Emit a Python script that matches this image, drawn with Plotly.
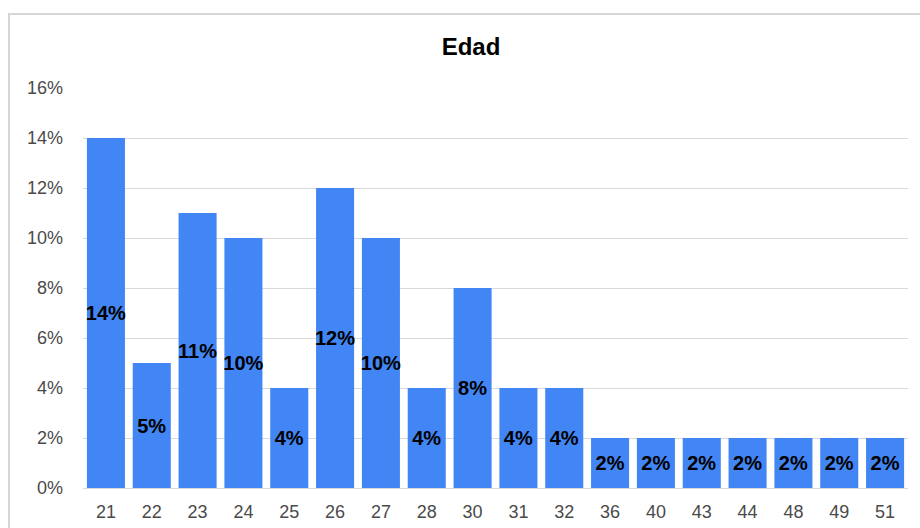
import plotly.graph_objects as go

# Age distribution (share of respondents per age)
ages = ["21", "22", "23", "24", "25", "26", "27", "28", "30", "31", "32",
        "36", "40", "43", "44", "48", "49", "51"]
shares = [14, 5, 11, 10, 4, 12, 10, 4, 8, 4, 4, 2, 2, 2, 2, 2, 2, 2]
y_ticks = [0, 2, 4, 6, 8, 10, 12, 14, 16]

FONT = "Liberation Sans, Arial, sans-serif"

fig = go.Figure(
    go.Bar(
        x=ages,
        y=[v / 100 for v in shares],
        text=[f"{v}%" for v in shares],
        textposition="inside",
        insidetextanchor="middle",
        constraintext="none",
        textangle=0,
        textfont=dict(family=FONT, size=20, color="#000000", weight="bold"),
        marker=dict(color="#4285F4", line=dict(width=0)),
        hoverinfo="skip",
    )
)

fig.update_layout(
    width=920,
    height=528,
    margin=dict(l=83, r=12, t=88, b=40),
    paper_bgcolor="white",
    plot_bgcolor="white",
    bargap=0.17,
    showlegend=False,
    uniformtext=dict(mode=False),
    title=dict(
        text="<b>Edad</b>",
        x=471 / 920,
        xanchor="center",
        xref="container",
        y=1 - 47 / 528,
        yanchor="middle",
        yref="container",
        font=dict(family=FONT, size=24, color="#000000"),
    ),
    font=dict(family=FONT),
    shapes=[
        dict(
            type="rect",
            xref="paper", yref="paper",
            x0=(9 - 83) / 825, x1=1.2,
            y0=-0.3, y1=(488 - 14) / 400,
            line=dict(color="#d6d6d6", width=2),
            fillcolor="rgba(0,0,0,0)",
            layer="below",
        )
    ],
)

fig.update_yaxes(
    range=[0, 0.16],
    tickvals=[v / 100 for v in y_ticks],
    ticktext=[f"{v}%" for v in y_ticks],
    showgrid=True,
    gridcolor="#d9d9d9",
    gridwidth=1,
    zeroline=False,
    showline=False,
    ticks="",
    ticklabelstandoff=19,
    tickfont=dict(size=18, color="#4a4a4a"),
    automargin=False,
    fixedrange=True,
)

fig.update_xaxes(
    type="category",
    showgrid=False,
    showline=True,
    linecolor="#d9d9d9",
    linewidth=1,
    ticks="",
    ticklabelstandoff=7,
    tickfont=dict(size=18, color="#4a4a4a"),
    automargin=False,
    fixedrange=True,
)

fig.write_html("out.html")
